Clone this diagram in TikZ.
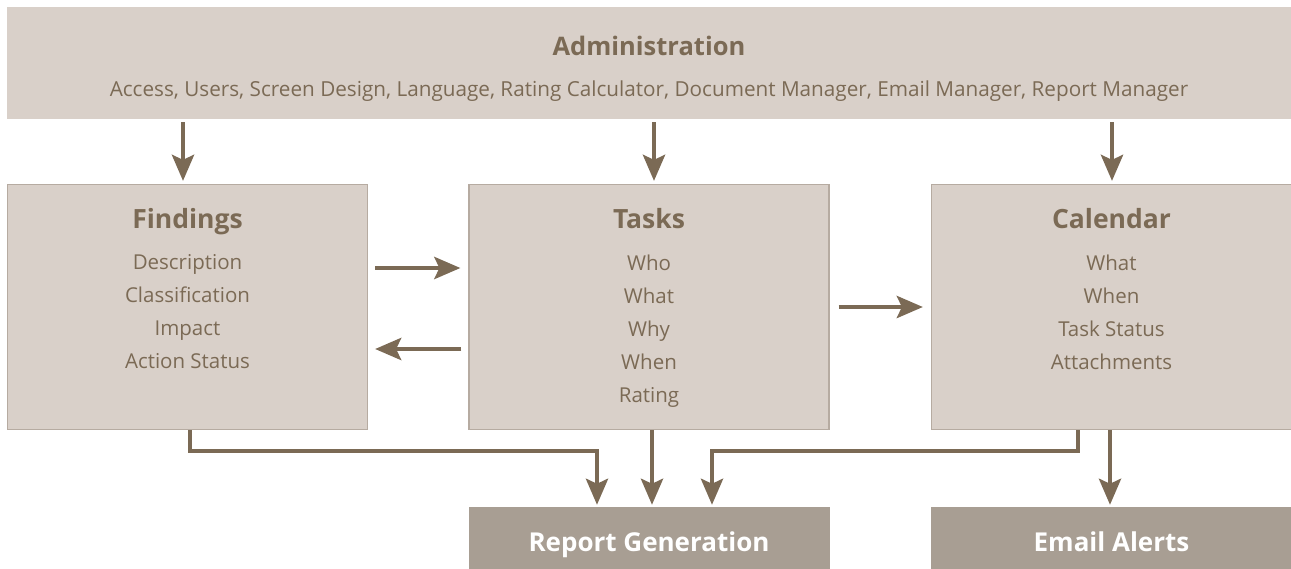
\documentclass[tikz,border=0pt]{standalone}
\usepackage{fontspec}
\setmainfont{Open Sans}
\usetikzlibrary{arrows.meta,positioning}
\definecolor{boxfill}{HTML}{D9D0C9}
\definecolor{boxline}{HTML}{B6ABA1}
\definecolor{outfill}{HTML}{A89E93}
\definecolor{brn}{HTML}{7B6A55}

\begin{document}
\begin{tikzpicture}[x = 1pt, y = -1pt,
  box/.style = {draw=boxline, line width=1.2pt, fill=boxfill, minimum width=360pt, minimum height=245pt},
  outbox/.style = {fill=outfill, minimum width=361pt, minimum height=70pt, text=white,
    text height=19pt, text depth=0pt, font=\fontsize{26}{30}\selectfont\bfseries},
  head/.style = {text=brn, anchor=base, font=\fontsize{26.5}{30}\selectfont\bfseries},
  items/.style = {text=brn, align=center, anchor=north, font=\fontsize{20.5}{33}\selectfont},
  flow/.style = {draw=brn, line width=4.5pt, -{Stealth[length=26pt, width=22pt, inset=5pt]}}]
\useasboundingbox (0, 0) rectangle (1291, 568);

\node[fill=boxfill, minimum width=1284pt, minimum height=112pt] (admin) at (649, 63) {};
\node[head, font=\fontsize{25.5}{30}\selectfont\bfseries] (admint) at (649, 55) {Administration};
\node[text=brn, anchor=base, font=\fontsize{20.7}{24}\selectfont] (adminl) at (649, 96)
  {Access, Users, Screen Design, Language, Rating Calculator, Document Manager, Email Manager, Report Manager};

\node[box] (fnd) at (187.5, 307) {};
\node[box] (tsk) at (649, 307) {};
\node[box] (cal) at (1111.5, 307) {};

\node[head] (fndt) at (187.5, 228) {Findings};
\node[head] (tskt) at (649, 228) {Tasks};
\node[head] (calt) at (1111.5, 228) {Calendar};

\node[items] (fndl) at (187.5, 251) {Description\\Classification\\Impact\\Action Status};
\node[items] (tskl) at (649, 251) {Who\\What\\Why\\When\\Rating};
\node[items] (call) at (1111.5, 251) {What\\When\\Task Status\\Attachments};

\node[outbox] (rep) at (649, 542) {Report Generation};
\node[outbox] (eml) at (1111.5, 542) {Email Alerts};

% from administration
\draw[flow, shorten <=3pt, shorten >=3pt] ([xshift=-4.5pt]admin.south -| fnd.north) -- ([xshift=-4.5pt]fnd.north);
\draw[flow, shorten <=3pt, shorten >=3pt] ([xshift=5pt]admin.south -| tsk.north) -- ([xshift=5pt]tsk.north);
\draw[flow, shorten <=3pt, shorten >=3pt] ([xshift=0.5pt]admin.south -| cal.north) -- ([xshift=0.5pt]cal.north);

% between the boxes
\draw[flow, shorten <=7pt, shorten >=8pt] ([yshift=39pt]fnd.east) -- ([yshift=39pt]tsk.west);
\draw[flow, shorten <=7pt, shorten >=7pt] ([yshift=-42pt]tsk.west) -- ([yshift=-42pt]fnd.east);
\draw[flow, shorten <=9pt, shorten >=8pt] (tsk.east) -- (cal.west);

% to the outputs
\draw[flow, shorten >=2pt] ([xshift=2.5pt]fnd.south) -- ++(0, 21) -| ([xshift=-52pt]rep.north);
\draw[flow, shorten >=2pt] ([xshift=3pt]tsk.south) -- ([xshift=3pt]rep.north);
\draw[flow, shorten >=2pt] ([xshift=-33.5pt]cal.south) -- ++(0, 21) -| ([xshift=63pt]rep.north);
\draw[flow, shorten >=2pt] ([xshift=-1.5pt]cal.south) -- ([xshift=-1.5pt]eml.north);

\end{tikzpicture}
\end{document}
